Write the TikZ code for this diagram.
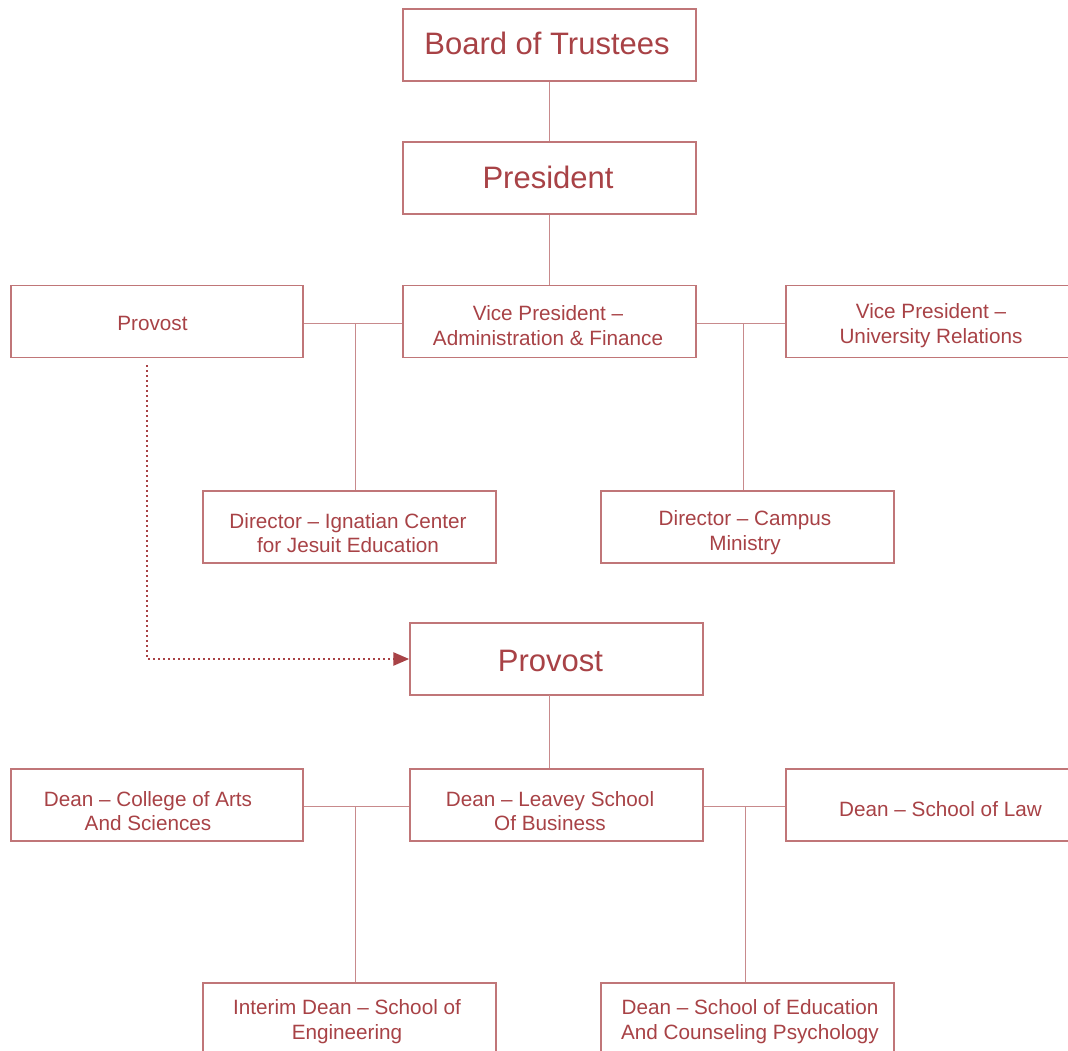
\documentclass[tikz,border=0pt]{standalone}
\usepackage{fontspec}
\setmainfont{Liberation Sans}
\usetikzlibrary{arrows.meta}
\definecolor{txtred}{RGB}{168,66,70}
\definecolor{boxred}{RGB}{192,118,120}
\definecolor{lnred}{RGB}{200,138,140}
\tikzset{
  orgbox/.style={draw=boxred, line width=1.5pt, minimum width=293pt, minimum height=72pt, inner sep=0pt, fill=none},
  smalltxt/.style={text=txtred, align=center, inner sep=0pt, font=\fontsize{20.7}{24.8}\selectfont},
  bigtxt/.style={text=txtred, align=center, inner sep=0pt, font=\fontsize{31}{37}\selectfont},
  conn/.style={draw=lnred, line width=1pt},
  dotarrow/.style={draw=txtred, line width=2.6pt, dash pattern=on 2.4pt off 2.6pt, -{Triangle[length=16pt,width=13pt]}}
}
\begin{document}
\begin{tikzpicture}[x=1pt,y=-1pt]
\useasboundingbox (0,0) rectangle (1068,1051);
\clip (0,0) rectangle (1068,1051);
\fill[white] (0,0) rectangle (1068,1051);

% boxes
\node[orgbox] (board) at (549.5,45) {};
\node[orgbox] (pres) at (549.5,178) {};
\node[orgbox, minimum width=292pt] (provA) at (157,321.5) {};
\node[orgbox] (vpaf) at (549.5,321.5) {};
\node[orgbox] (vpur) at (932.5,321.5) {};
\node[orgbox] (dirI) at (349.5,527) {};
\node[orgbox] (dirC) at (747.5,527) {};
\node[orgbox] (provB) at (556.5,659) {};
\node[orgbox, minimum width=292pt] (arts) at (157,805) {};
\node[orgbox] (leavey) at (556.5,805) {};
\node[orgbox] (law) at (932.5,805) {};
\node[orgbox] (interim) at (349.5,1019) {};
\node[orgbox] (edu) at (747.5,1019) {};

% texts
\node[bigtxt] (tboard) at (547,43.5) {Board of Trustees};
\node[bigtxt] (tpres) at (548,177.5) {President};
\node[smalltxt] (tprovA) at (152.5,323) {Provost};
\node[smalltxt] (tvpaf) at (548,325.5) {Vice President –\\Administration \& Finance};
\node[smalltxt] (tvpur) at (931,325.5) {Vice President –\\University Relations};
\node[smalltxt] (tdirI) at (348,533) {Director – Ignatian Center\\for Jesuit Education};
\node[smalltxt] (tdirC) at (745,533) {Director – Campus\\Ministry};
\node[bigtxt] (tprovB) at (550.5,661) {Provost};
\node[smalltxt] (tarts) at (148,811) {Dean – College of Arts\\And Sciences};
\node[smalltxt] (tleavey) at (550,811) {Dean – Leavey School\\Of Business};
\node[smalltxt] (tlaw) at (940.5,809.5) {Dean – School of Law};
\node[smalltxt] (tinterim) at (347,1022) {Interim Dean – School of\\Engineering};
\node[smalltxt] (tedu) at (750,1022) {Dean – School of Education\\And Counseling Psychology};

% junction coordinates
\coordinate (jA) at (355.7,323);
\coordinate (jB) at (743.3,323);
\coordinate (jP) at (549.3,695);
\coordinate (jC) at (355.7,806.3);
\coordinate (jD) at (745.3,806.3);
\coordinate (dstart) at (147,365);

% connectors
\draw[conn] (board.south) -- (pres.north);
\draw[conn] (pres.south) -- (vpaf.north);
\draw[conn] (provA.east |- jA) -- (vpaf.west |- jA);
\draw[conn] (vpaf.east |- jB) -- (vpur.west |- jB);
\draw[conn] (jA) -- (jA |- dirI.north);
\draw[conn] (jB) -- (jB |- dirC.north);
\draw[conn] (jP) -- (jP |- leavey.north);
\draw[conn] (arts.east |- jC) -- (leavey.west |- jC);
\draw[conn] (leavey.east |- jD) -- (law.west |- jD);
\draw[conn] (jC) -- (jC |- interim.north);
\draw[conn] (jD) -- (jD |- edu.north);

% dotted arrow
\draw[dotarrow] (dstart) |- (provB.west);
\end{tikzpicture}
\end{document}
